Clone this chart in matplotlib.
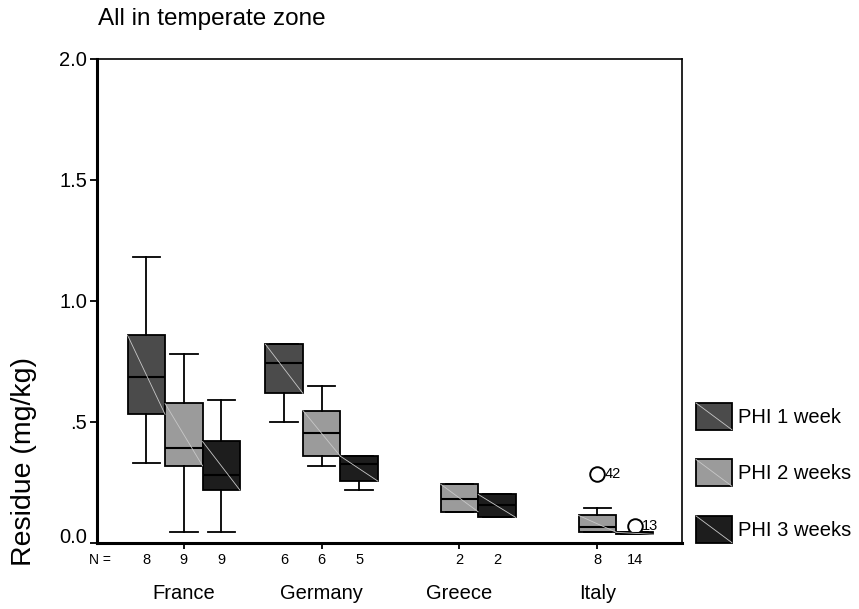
import matplotlib
matplotlib.use("Agg")
import matplotlib.pyplot as plt
from matplotlib.patches import Rectangle
from matplotlib.lines import Line2D
from matplotlib.legend_handler import HandlerPatch
from matplotlib.transforms import blended_transform_factory, ScaledTranslation

plt.rcParams['font.family'] = ['Liberation Sans', 'DejaVu Sans']

# ---- data -------------------------------------------------------------
countries = ['France', 'Germany', 'Greece', 'Italy']
series = ['PHI 1 week', 'PHI 2 weeks', 'PHI 3 weeks']
colors = ['#4b4b4b', '#9b9b9b', '#1d1d1d']

# five-number summaries per country: (whisker low, Q1, median, Q3, whisker high)
week1 = [(0.327, 0.530, 0.686, 0.857, 1.180),
         (0.499, 0.617, 0.741, 0.820, 0.820),
         None,
         None]
week2 = [(0.043, 0.317, 0.389, 0.575, 0.779),
         (0.318, 0.357, 0.451, 0.546, 0.647),
         (0.127, 0.127, 0.181, 0.241, 0.241),
         (0.043, 0.043, 0.064, 0.112, 0.144)]
week3 = [(0.043, 0.216, 0.278, 0.418, 0.590),
         (0.216, 0.254, 0.326, 0.357, 0.357),
         (0.104, 0.104, 0.154, 0.199, 0.199),
         (0.034, 0.034, 0.038, 0.042, 0.042)]

n_week1 = [8, 6, None, None]
n_week2 = [9, 6, 2, 8]
n_week3 = [9, 5, 2, 14]

# outliers: (series index, country index, value, case label)
outliers = [(1, 3, 0.285, '42'),
            (2, 3, 0.070, '13')]

yticks = [0.0, 0.5, 1.0, 1.5, 2.0]
yticklabels = ['0.0', '.5', '1.0', '1.5', '2.0']

# ---- figure -----------------------------------------------------------
W, H = 859, 609
fig = plt.figure(figsize=(W / 100, H / 100), dpi=100)
ax = fig.add_axes([97 / W, 1 - 542.5 / H, (682 - 97) / W, (542.5 - 59) / H])

offset = 0.272
width = 0.272
all_stats = [week1, week2, week3]
all_n = [n_week1, n_week2, n_week3]

line_kw = dict(color='black', linewidth=1.3)
diag_color = '#c8c8c8'

for si, (stats, col) in enumerate(zip(all_stats, colors)):
    for gi, st in enumerate(stats):
        if st is None:
            continue
        lo, q1, med, q3, hi = st
        pos = gi + (si - 1) * offset
        fliers = [v for (s, g, v, _) in outliers if s == si and g == gi]
        bstat = dict(whislo=lo, q1=q1, med=med, q3=q3, whishi=hi, fliers=fliers)
        ax.bxp([bstat], positions=[pos], widths=width, patch_artist=True,
               showfliers=True,
               boxprops=dict(facecolor=col, edgecolor='black', linewidth=1.3),
               medianprops=dict(color='black', linewidth=1.5),
               whiskerprops=line_kw, capprops=line_kw, capwidths=width * 0.73,
               flierprops=dict(marker='o', markersize=10.5, markerfacecolor='white',
                               markeredgecolor='black', markeredgewidth=1.4),
               manage_ticks=False, zorder=3)
        # light diagonal across each box
        ax.plot([pos - width / 2, pos + width / 2], [q3, q1], color=diag_color,
                linewidth=0.6, zorder=3.5)

# case labels next to the outliers
for si, gi, v, lab in outliers:
    pos = gi + (si - 1) * offset
    ax.annotate(lab, (pos, v), xytext=(5, 0), textcoords='offset points',
                ha='left', va='center', fontsize=10.5, zorder=5)

# sample sizes under the axis
bt = blended_transform_factory(ax.transData, ax.transAxes)
ax.text(-0.61, -0.036, 'N =', transform=bt, ha='center', va='center', fontsize=10)
for si, ns in enumerate(all_n):
    for gi, n in enumerate(ns):
        if n is None:
            continue
        pos = gi + (si - 1) * offset
        ax.text(pos, -0.036, str(n), transform=bt, ha='center', va='center',
                fontsize=10.5)

ax.set_xlim(-0.63, 3.615)
ax.set_ylim(0, 2.0)
ax.set_xticks(range(len(countries)))
ax.set_xticklabels(countries, fontsize=14.5)
ax.set_yticks(yticks)
ax.set_yticklabels(yticklabels, fontsize=14.5)
ax.tick_params(axis='x', direction='out', length=4, width=1.3, pad=26)
ax.tick_params(axis='y', direction='out', length=5, width=1.3, pad=2)

# lift the bottom label a little off the corner
zero_lab = ax.get_yticklabels()[0]
zero_lab.set_transform(zero_lab.get_transform()
                       + ScaledTranslation(0, 5 / 72, fig.dpi_scale_trans))

for side in ['left', 'bottom']:
    ax.spines[side].set_linewidth(2.2)
for side in ['top', 'right']:
    ax.spines[side].set_linewidth(1.2)

fig.text(24 / W, 1 - 462 / H, 'Residue (mg/kg)', rotation=90, ha='center',
         va='center', fontsize=20.5)
fig.text(98 / W, 1 - 19 / H, 'All in temperate zone', ha='left', va='center',
         fontsize=17.5)


# legend entries with the same diagonal stroke as the boxes
class DiagHandler(HandlerPatch):
    def create_artists(self, legend, orig_handle, xdescent, ydescent, width,
                       height, fontsize, trans):
        r = Rectangle((-xdescent, -ydescent), width, height,
                      facecolor=orig_handle.get_facecolor(), edgecolor='black',
                      linewidth=1.3, transform=trans)
        d = Line2D([-xdescent, -xdescent + width], [-ydescent + height, -ydescent],
                   color=diag_color, linewidth=0.6, transform=trans)
        return [r, d]


handles = [Rectangle((0, 0), 1, 1, facecolor=c) for c in colors]
fig.legend(handles, series, handler_map={Rectangle: DiagHandler()},
           loc='upper left', bbox_to_anchor=(696 / W, 1 - 403 / H),
           frameon=False, fontsize=14.5, handlelength=1.78, handleheight=1.66,
           handletextpad=0.3, labelspacing=1.48, borderpad=0, borderaxespad=0)

fig.savefig('out.png', dpi=100)
